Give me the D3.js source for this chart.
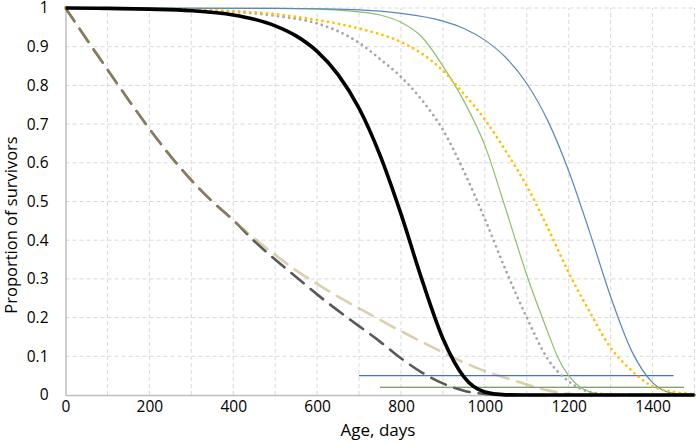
<!DOCTYPE html>
<html>
<head>
<meta charset="utf-8">
<script src="https://cdn.jsdelivr.net/npm/d3@7"></script>
<style>
  body { margin: 0; background: #fff; }
  svg text { font-family: "Open Sans", "Noto Sans", sans-serif; fill: #000; }
</style>
</head>
<body>
<svg id="chart"></svg>
<script>
const width = 696;
const height = 443;

const xTicks = [0, 200, 400, 600, 800, 1000, 1200, 1400];
const yTicks = [0, 0.1, 0.2, 0.3, 0.4, 0.5, 0.6, 0.7, 0.8, 0.9, 1];

// [age, proportion]
const blueLine = [[0, 1], [500, 0.999], [600, 0.998], [700, 0.995], [800, 0.986], [900, 0.966],
  [950, 0.947], [1000, 0.917], [1050, 0.872], [1100, 0.805], [1150, 0.709], [1200, 0.579],
  [1250, 0.421], [1300, 0.254], [1350, 0.114], [1400, 0.032], [1450, 0.004], [1500, 0]];
const greenLine = [[0, 1], [500, 0.999], [600, 0.997], [700, 0.99], [750, 0.982], [800, 0.963],
  [850, 0.925], [900, 0.85], [950, 0.76], [1000, 0.645], [1050, 0.48], [1100, 0.31],
  [1150, 0.163], [1175, 0.095], [1200, 0.05], [1225, 0.022], [1250, 0.008], [1275, 0.002],
  [1300, 0], [1500, 0]];
const orangeDots = [[0, 1], [200, 0.998], [300, 0.995], [400, 0.992], [500, 0.984], [600, 0.969],
  [700, 0.947], [800, 0.912], [850, 0.882], [900, 0.838], [950, 0.778], [1000, 0.712],
  [1050, 0.63], [1100, 0.54], [1150, 0.432], [1200, 0.316], [1250, 0.215], [1300, 0.122],
  [1350, 0.063], [1400, 0.022], [1450, 0.008], [1500, 0.002]];
const greyDots = [[0, 1], [200, 0.998], [300, 0.995], [400, 0.99], [500, 0.98], [600, 0.96],
  [650, 0.94], [700, 0.91], [750, 0.868], [800, 0.822], [850, 0.762], [900, 0.685],
  [950, 0.578], [1000, 0.455], [1050, 0.322], [1100, 0.2], [1150, 0.093], [1200, 0.035],
  [1250, 0.008], [1300, 0.001], [1350, 0], [1500, 0]];
const blackLine = [[0, 1], [100, 0.999], [200, 0.997], [300, 0.993], [400, 0.982], [450, 0.971],
  [500, 0.954], [550, 0.928], [600, 0.888], [650, 0.828], [700, 0.741], [750, 0.62],
  [800, 0.468], [850, 0.298], [900, 0.146], [950, 0.047], [1000, 0.008], [1050, 0.0004],
  [1100, 0], [1500, 0]];
const tanDash = [[0, 1], [50, 0.92], [100, 0.841], [150, 0.763], [200, 0.688], [250, 0.618],
  [300, 0.555], [350, 0.5], [400, 0.452], [450, 0.405], [500, 0.362], [550, 0.322],
  [600, 0.287], [650, 0.254], [700, 0.224], [750, 0.194], [800, 0.165], [850, 0.137],
  [900, 0.11], [950, 0.084], [1000, 0.062], [1050, 0.044], [1100, 0.027], [1150, 0.012],
  [1200, 0.003], [1230, 0], [1500, 0]];
const greyDash = [[0, 1], [50, 0.92], [100, 0.841], [150, 0.763], [200, 0.688], [250, 0.618],
  [300, 0.555], [350, 0.5], [400, 0.452], [450, 0.398], [500, 0.35], [550, 0.305],
  [600, 0.26], [650, 0.218], [700, 0.178], [750, 0.138], [800, 0.095], [850, 0.058],
  [900, 0.03], [950, 0.011], [1000, 0.003], [1050, 0], [1500, 0]];

// flat reference lines: [fromAge, toAge, level]
const blueLevel = [700, 1450, 0.05];
const greenLevel = [750, 1475, 0.02];

const svg = d3.select("#chart").attr("width", width).attr("height", height);

const x = d3.scaleLinear().domain([0, 1500]).range([65.5, 694.5]);
const y = d3.scaleLinear().domain([0, 1]).range([395, 8]);

// grid
const grid = svg.append("g");
grid.selectAll("line.v")
  .data(d3.range(100, 1501, 100))
  .enter()
  .append("line")
  .attr("x1", (d) => x(d)).attr("x2", (d) => x(d))
  .attr("y1", y(0)).attr("y2", y(1))
  .attr("stroke", "#d9d9d9")
  .attr("stroke-dasharray", "4 3");
grid.selectAll("line.h")
  .data(yTicks.slice(1))
  .enter()
  .append("line")
  .attr("x1", x(0)).attr("x2", x(1500))
  .attr("y1", (d) => y(d)).attr("y2", (d) => y(d))
  .attr("stroke", "#d9d9d9")
  .attr("stroke-dasharray", "4 3");

// axes
const xAxis = svg.append("g")
  .attr("transform", `translate(0,${y(0)})`)
  .call(d3.axisBottom(x).tickValues(xTicks).tickSize(0).tickPadding(6)
    .tickFormat(d3.format("d")));
xAxis.select(".domain").attr("stroke", "#bfbfbf").attr("stroke-width", 1.5);
xAxis.selectAll("text").style("font-size", "15.5px").attr("fill", "#000");

const yAxis = svg.append("g")
  .attr("transform", `translate(${x(0)},0)`)
  .call(d3.axisLeft(y).tickValues(yTicks).tickSize(0).tickPadding(17)
    .tickFormat((d) => d3.format("~g")(d)));
yAxis.select(".domain").attr("stroke", "#bfbfbf").attr("stroke-width", 1.5);
yAxis.selectAll("text").style("font-size", "15.5px").attr("fill", "#000");

svg.append("text")
  .attr("x", x(750) - 2)
  .attr("y", 436)
  .attr("text-anchor", "middle")
  .style("font-size", "17px")
  .text("Age, days");

svg.append("text")
  .attr("transform", `translate(17,225) rotate(-90)`)
  .attr("text-anchor", "middle")
  .style("font-size", "16.5px")
  .text("Proportion of survivors");

const line = d3.line()
  .x((d) => x(d[0]))
  .y((d) => y(d[1]))
  .curve(d3.curveMonotoneX);

const plot = svg.append("g").attr("fill", "none");

function draw(data, color, w, dash, cap, opacity = 1) {
  plot.append("path")
    .attr("d", line(data))
    .attr("stroke", color)
    .attr("stroke-width", w)
    .attr("stroke-dasharray", dash)
    .attr("stroke-linecap", cap)
    .attr("stroke-opacity", opacity);
}

function level(l, color) {
  plot.append("line")
    .attr("x1", x(l[0])).attr("x2", x(l[1]))
    .attr("y1", y(l[2])).attr("y2", y(l[2]))
    .attr("stroke", color)
    .attr("stroke-width", 1.2);
}

draw(greyDash, "#595959", 2.6, "16 9", "round");
draw(tanDash, "#b89f62", 2.6, "16 9", "round", 0.5);
level(blueLevel, "#4472c4");
level(greenLevel, "#548235");
draw(greyDots, "#a5a5a5", 2.8, "0 5.6", "round");
draw(greenLine, "#8bc168", 1.2, null, "butt");
draw(blueLine, "#5a86c0", 1.2, null, "butt");
draw(orangeDots, "#ffc000", 2.8, "0 5.6", "round");
draw(blackLine, "#000", 3.6, null, "butt");
</script>
</body>
</html>
